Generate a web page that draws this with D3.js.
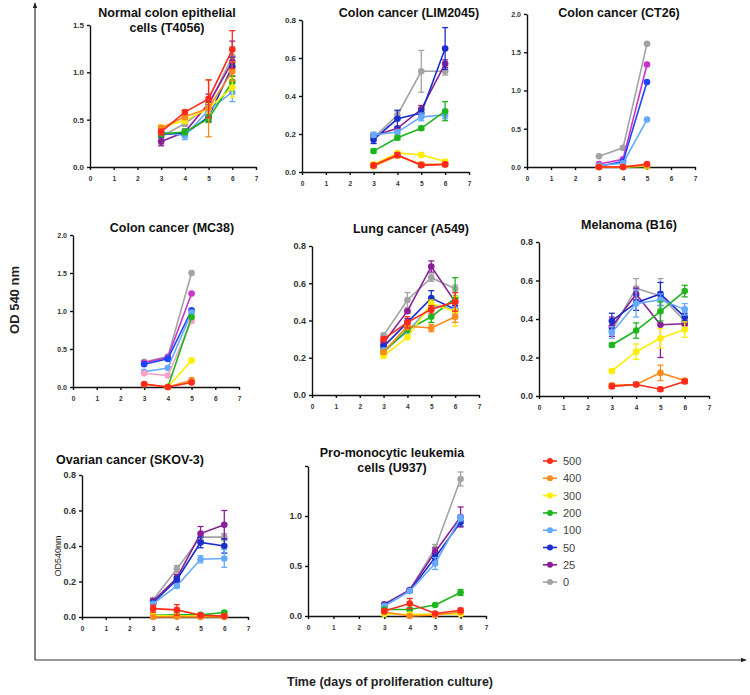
<!DOCTYPE html>
<html><head><meta charset="utf-8">
<script src="https://cdn.jsdelivr.net/npm/d3@7"></script>
<style>
html,body{margin:0;padding:0;background:#fff;}
svg{display:block;font-family:"Liberation Sans",Arial,sans-serif;}
.tick text{font-family:"Liberation Sans Narrow","Liberation Sans",Arial,sans-serif;font-weight:bold;fill:#333;}
</style></head><body>
<script>
// ---------------- DATA ----------------
const days = [3, 4, 5, 6];
const doses = ["500", "400", "300", "200", "100", "50", "25", "0"];
const xTicks = [0, 1, 2, 3, 4, 5, 6, 7];

// series order follows doses: 500,400,300,200,100,50,25,0
const t4056 = [
  [0.37, 0.58, 0.72, 1.24], [0.41, 0.53, 0.62, 1.01], [0.42, 0.49, 0.62, 0.84], [0.35, 0.37, 0.51, 0.90],
  [0.37, 0.33, 0.60, 0.79], [0.35, 0.35, 0.53, 1.06], [0.27, 0.37, 0.67, 1.11], [0.32, 0.46, 0.64, 1.17]];
const t4056Err = [
  [0.03, 0.02, 0.20, 0.20], [0.03, 0.03, 0.30, 0.10], [0.02, 0.03, 0.05, 0.10], [0.03, 0.03, 0.04, 0.06],
  [0.03, 0.04, 0.05, 0.10], [0.03, 0.03, 0.05, 0.10], [0.04, 0.03, 0.10, 0.22], [0.10, 0.03, 0.06, 0.10]];

const lim2045 = [
  [0.035, 0.09, 0.035, 0.04], [0.03, 0.085, 0.04, 0.04], [0.04, 0.10, 0.09, 0.055], [0.11, 0.18, 0.23, 0.32],
  [0.195, 0.21, 0.29, 0.30], [0.17, 0.28, 0.31, 0.65], [0.19, 0.23, 0.33, 0.57], [0.18, 0.30, 0.53, 0.53]];
const lim2045Err = [
  [0.01, 0.01, 0.01, 0.01], [0.01, 0.01, 0.01, 0.01], [0.01, 0.01, 0.01, 0.01], [0.01, 0.01, 0.01, 0.05],
  [0.01, 0.01, 0.02, 0.02], [0.02, 0.045, 0.02, 0.11], [0.01, 0.01, 0.02, 0.02], [0.03, 0.02, 0.11, 0.02]];

const ct26 = [
  [0.0, 0.0, 0.04, null], [0.0, 0.0, 0.02, null], [0.0, 0.0, 0.01, null], [0.0, 0.0, 0.01, null],
  [0.02, 0.05, 0.62, null], [0.01, 0.07, 1.11, null], [0.04, 0.10, 1.34, null], [0.14, 0.25, 1.61, null]];

const mc38 = [
  [0.04, 0.0, 0.06, null], [0.035, 0.0, 0.09, null], [null, 0.0, 0.35, null], [null, 0.0, 0.92, null],
  [0.20, 0.25, 0.98, null], [0.30, 0.37, 1.01, null], [0.32, 0.39, 1.23, null], [0.33, 0.40, 1.50, null]];
const mc38Pink = [0.18, 0.15, 0.87, null];

const a549 = [
  [0.30, 0.39, 0.46, 0.50], [0.23, 0.37, 0.36, 0.42], [0.21, 0.31, 0.49, 0.45], [0.23, 0.35, 0.42, 0.52],
  [0.24, 0.34, 0.48, 0.46], [0.26, 0.39, 0.52, 0.46], [0.28, 0.45, 0.69, 0.50], [0.32, 0.51, 0.63, 0.57]];
const a549Err = [
  [0.01, 0.03, 0.02, 0.05], [0.01, 0.02, 0.02, 0.03], [0.01, 0.01, 0.02, 0.08], [0.01, 0.01, 0.03, 0.11],
  [0.01, 0.01, 0.02, 0.03], [0.01, 0.02, 0.04, 0.02], [0.01, 0.01, 0.03, 0.02], [0.01, 0.04, 0.02, 0.02]];

const b16 = [
  [0.05, 0.06, 0.035, 0.075], [0.055, 0.06, 0.12, 0.08], [0.13, 0.23, 0.30, 0.345], [0.265, 0.34, 0.44, 0.545],
  [0.33, 0.48, 0.50, 0.45], [0.39, 0.485, 0.53, 0.41], [0.36, 0.53, 0.37, 0.375], [0.34, 0.56, 0.52, 0.39]];
const b16Err = [
  [0.01, 0.01, 0.01, 0.01], [0.01, 0.01, 0.04, 0.01], [0.01, 0.04, 0.05, 0.04], [0.01, 0.04, 0.05, 0.03],
  [0.03, 0.07, 0.03, 0.03], [0.04, 0.04, 0.06, 0.02], [0.05, 0.03, 0.17, 0.01], [0.03, 0.05, 0.09, 0.01]];

const skov3 = [
  [0.047, 0.04, 0.01, 0.005], [0.0, 0.002, 0.0, 0.0], [0.007, 0.005, 0.005, 0.005], [0.01, 0.013, 0.012, 0.025],
  [0.075, 0.175, 0.325, 0.33], [0.08, 0.21, 0.42, 0.40], [0.09, 0.22, 0.47, 0.52], [0.097, 0.27, 0.45, 0.45]];
const skov3Err = [
  [0.02, 0.03, 0.01, 0.01], [0, 0, 0, 0], [0, 0, 0, 0], [0.005, 0.005, 0.005, 0.005],
  [0.005, 0.01, 0.02, 0.05], [0.01, 0.02, 0.03, 0.04], [0.01, 0.02, 0.04, 0.08], [0.01, 0.02, 0.02, 0.02]];

const u937 = [
  [0.05, 0.125, 0.025, 0.057], [0.04, 0.0, 0.01, 0.04], [0.02, 0.015, 0.02, 0.02], [0.065, 0.065, 0.11, 0.235],
  [0.10, 0.25, 0.525, 0.98], [0.105, 0.25, 0.585, 0.94], [0.115, 0.26, 0.64, 0.99], [0.12, 0.26, 0.675, 1.37]];
const u937Err = [
  [0.02, 0.05, 0.01, 0.02], [0, 0, 0, 0], [0, 0, 0, 0], [0.01, 0.01, 0.01, 0.03],
  [0.01, 0.01, 0.06, 0.03], [0.01, 0.01, 0.03, 0.04], [0.01, 0.01, 0.04, 0.1], [0.01, 0.01, 0.04, 0.07]];

// ---------------- STYLE ----------------
const colors = ["#ff2a1a", "#ff8a1c", "#ffee00", "#1fb51f", "#66aaff", "#1a2ecc", "#8a1f96", "#a3a3a3"];
const magenta = "#cc33cc";
const pink = "#f7a1c9";

const W = 750, H = 695;
const svg = d3.select("body").append("svg").attr("width", W).attr("height", H);

svg.append("defs").append("marker").attr("id", "arr").attr("viewBox", "0 0 10 10")
  .attr("refX", 9).attr("refY", 5).attr("markerWidth", 5).attr("markerHeight", 5).attr("orient", "auto")
  .append("path").attr("d", "M0,1 L10,5 L0,9 z").attr("fill", "#222");

svg.append("line").attr("x1", 35).attr("y1", 660).attr("x2", 35).attr("y2", 3)
  .attr("stroke", "#333").attr("stroke-width", 1.2).attr("marker-end", "url(#arr)");
svg.append("line").attr("x1", 35).attr("y1", 660).attr("x2", 746).attr("y2", 660)
  .attr("stroke", "#333").attr("stroke-width", 1.2).attr("marker-end", "url(#arr)");
svg.append("text").attr("transform", "translate(19,300) rotate(-90)").attr("text-anchor", "middle")
  .attr("font-size", 13).attr("font-weight", "bold").attr("fill", "#222").text("OD 540 nm");
svg.append("text").attr("x", 390).attr("y", 686).attr("text-anchor", "middle")
  .attr("font-size", 12.5).attr("font-weight", "bold").attr("fill", "#222").text("Time (days of proliferation culture)");

const panels = [
  {data: t4056, err: t4056Err, title: ["Normal colon epithelial", "cells (T4056)"], tx: 167, ty: 17,
   x0: 90, x7: 256, y0: 167, y1: 25, max: 1.5, step: 0.5, yfs: 8},
  {data: lim2045, err: lim2045Err, title: ["Colon cancer (LIM2045)"], tx: 409, ty: 17,
   x0: 302, x7: 469, y0: 172, y1: 20, max: 0.8, step: 0.2, yfs: 8},
  {data: ct26, err: null, title: ["Colon cancer (CT26)"], tx: 619, ty: 17, c25: magenta, c50: "#1a44ff",
   x0: 527, x7: 695, y0: 167, y1: 14, max: 2.0, step: 0.5, yfs: 7},
  {data: mc38, err: null, title: ["Colon cancer (MC38)"], tx: 172, ty: 232, c25: magenta, c50: "#1a44ff", extra: mc38Pink,
   x0: 73, x7: 239, y0: 387, y1: 235, max: 2.0, step: 0.5, yfs: 7},
  {data: a549, err: a549Err, title: ["Lung cancer (A549)"], tx: 411, ty: 233,
   x0: 312, x7: 479, y0: 395, y1: 246, max: 0.8, step: 0.2, yfs: 9},
  {data: b16, err: b16Err, title: ["Melanoma (B16)"], tx: 629, ty: 229,
   x0: 539, x7: 709, y0: 396, y1: 242, max: 0.8, step: 0.2, yfs: 9},
  {data: skov3, err: skov3Err, title: ["Ovarian cancer (SKOV-3)"], tx: 130, ty: 464, ylab: "OD540nm",
   x0: 82, x7: 248, y0: 617, y1: 475, max: 0.8, step: 0.2, yfs: 9},
  {data: u937, err: u937Err, title: ["Pro-monocytic leukemia", "cells (U937)"], tx: 392, ty: 457,
   x0: 308, x7: 486, y0: 616, y1: 466, max: 1.5, step: 0.5, yfs: 9, hideTop: true}
];

panels.forEach(p => {
  const g = svg.append("g");
  const x = d3.scaleLinear().domain([0, 7]).range([p.x0, p.x7]);
  const y = d3.scaleLinear().domain([0, p.max]).range([p.y0, p.y1]);
  const yt = d3.range(0, p.max + 1e-9, p.step);
  const ya = g.append("g").attr("transform", `translate(${p.x0},0)`)
    .call(d3.axisLeft(y).tickValues(yt).tickSize(3).tickSizeOuter(0).tickPadding(3).tickFormat(d3.format(".1f")));
  ya.selectAll("text").attr("font-size", p.yfs);
  if (p.hideTop) ya.selectAll(".tick").filter(d => d > 1.2).select("text").remove();
  const xa = g.append("g").attr("transform", `translate(0,${p.y0})`)
    .call(d3.axisBottom(x).tickValues(xTicks).tickSize(3).tickSizeOuter(0).tickPadding(6).tickFormat(d3.format("d")));
  xa.selectAll("text").attr("font-size", 6.5);
  g.selectAll(".domain, .tick line").attr("stroke", "#111").attr("stroke-width", 1.4);

  p.title.forEach((t, i) => g.append("text").attr("x", p.tx).attr("y", p.ty + i * 15)
    .attr("text-anchor", "middle").attr("font-size", 12.5).attr("font-weight", "bold").attr("fill", "#111").text(t));
  if (p.ylab) g.append("text").attr("transform", `translate(${p.x0 - 21},${(p.y0 + p.y1) / 2 + 10}) rotate(-90)`)
    .attr("text-anchor", "middle").attr("font-size", 9).attr("fill", "#222").text(p.ylab);

  const line = d3.line().defined(d => d.v != null).x(d => x(d.d)).y(d => y(d.v));
  const series = p.data.map((vals, i) => {
    let c = colors[i];
    if (i === 6 && p.c25) c = p.c25;
    if (i === 5 && p.c50) c = p.c50;
    return {c, pts: days.map((d, j) => ({d, v: vals[j], e: p.err ? p.err[i][j] : 0}))};
  });
  if (p.extra) series.splice(4, 0, {c: pink, pts: days.map((d, j) => ({d, v: p.extra[j], e: 0}))});
  series.slice().reverse().forEach(s => {
    const sg = g.append("g");
    sg.append("path").datum(s.pts).attr("d", line).attr("fill", "none").attr("stroke", s.c).attr("stroke-width", 1.6);
    const pts = s.pts.filter(d => d.v != null);
    pts.filter(d => d.e > 0.004).forEach(d => {
      const yl = y(Math.max(0, d.v - d.e)), yh = y(d.v + d.e), cx = x(d.d);
      sg.append("line").attr("x1", cx).attr("x2", cx).attr("y1", yl).attr("y2", yh).attr("stroke", s.c).attr("stroke-width", 1.3);
      [yl, yh].forEach(yy => sg.append("line").attr("x1", cx - 3).attr("x2", cx + 3).attr("y1", yy).attr("y2", yy)
        .attr("stroke", s.c).attr("stroke-width", 1.3));
    });
    sg.selectAll("circle").data(pts).join("circle").attr("cx", d => x(d.d)).attr("cy", d => y(d.v))
      .attr("r", 3.3).attr("fill", s.c);
  });
});

const lg = svg.append("g");
doses.forEach((d, i) => {
  const yy = 461 + i * 17.3;
  lg.append("line").attr("x1", 543).attr("x2", 557).attr("y1", yy).attr("y2", yy).attr("stroke", colors[i]).attr("stroke-width", 1.6);
  lg.append("circle").attr("cx", 550).attr("cy", yy).attr("r", 3).attr("fill", colors[i]);
  lg.append("text").attr("x", 563).attr("y", yy + 4).attr("font-size", 11).attr("fill", "#444").text(d);
});
</script>
</body></html>
